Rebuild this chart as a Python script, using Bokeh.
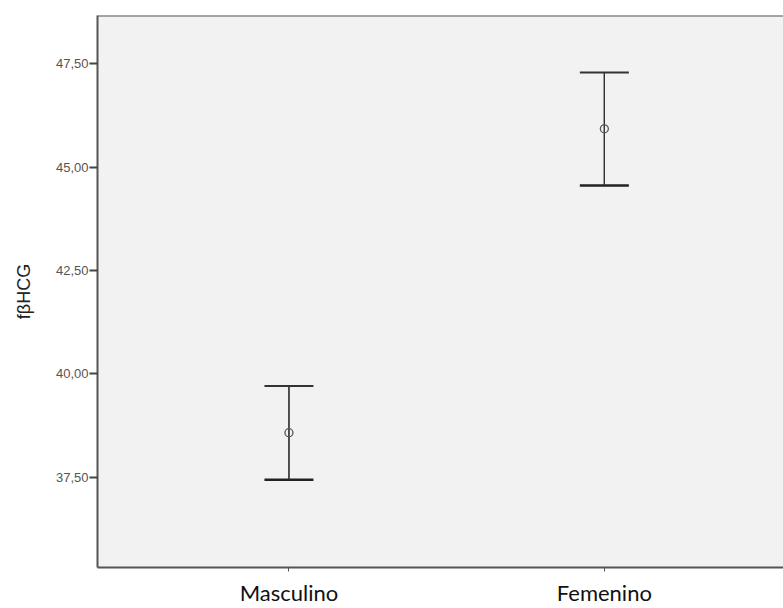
from bokeh.plotting import figure
from bokeh.models import FixedTicker, Range1d, ColumnDataSource, Whisker, Span
from bokeh.embed import file_html
from bokeh.resources import INLINE

categories = ["Masculino", "Femenino"]
cat_pos = [1, 2]
means = [38.58, 45.93]
upper = [39.71, 47.29]
lower = [37.44, 44.56]
y_ticks = [37.5, 40.0, 42.5, 45.0, 47.5]
y_tick_labels = ["37,50", "40,00", "42,50", "45,00", "47,50"]

p = figure(width=783, height=608, output_backend="svg", toolbar_location=None,
           x_range=Range1d(0.393, 2.568), y_range=Range1d(35.32, 48.67),
           min_border_left=97, min_border_top=15, min_border_bottom=41, min_border_right=0)
p.background_fill_color = "#f2f2f2"
p.border_fill_color = "white"
p.outline_line_color = None
p.grid.visible = False

src = ColumnDataSource(dict(x=cat_pos, m=means, u=upper, l=lower))
p.segment(x0="x", y0="l", x1="x", y1="u", source=src, line_color="#333333", line_width=1.2)
w = Whisker(base="x", upper="u", lower="l", source=src, dimension="height",
            line_color="#333333", line_width=1.2)
w.upper_head.size = 49
w.lower_head.size = 49
w.upper_head.line_color = "#333333"
w.lower_head.line_color = "#222222"
w.upper_head.line_width = 2
w.lower_head.line_width = 2.5
p.add_layout(w)
p.scatter(x="x", y="m", source=src, marker="circle", size=8, fill_color=None,
          line_color="#555555", line_width=1.3)

p.add_layout(Span(location=48.67, dimension="width", line_color="#555555", line_width=2))

p.xaxis.ticker = FixedTicker(ticks=cat_pos)
p.xaxis.major_label_overrides = {c: n for c, n in zip(cat_pos, categories)}
p.xaxis.major_label_text_font = "Lato"
p.xaxis.major_label_text_font_size = "22px"
p.xaxis.major_label_text_color = "#111111"
p.xaxis.major_label_standoff = 7
p.xaxis.minor_tick_line_color = None
p.xaxis.major_tick_out = 4
p.xaxis.major_tick_in = 0
p.xaxis.axis_line_color = "#555555"
p.xaxis.axis_line_width = 2
p.xaxis.major_tick_line_color = "#555555"

p.yaxis.ticker = FixedTicker(ticks=y_ticks)
p.yaxis.major_label_overrides = {t: s for t, s in zip(y_ticks, y_tick_labels)}
p.yaxis.major_label_text_font = "Liberation Sans"
p.yaxis.major_label_text_font_size = "13px"
p.yaxis.major_label_text_color = "#555555"
p.yaxis.major_label_standoff = 1
p.yaxis.minor_tick_line_color = None
p.yaxis.major_tick_out = 8
p.yaxis.major_tick_in = 0
p.yaxis.axis_line_color = "#555555"
p.yaxis.axis_line_width = 2
p.yaxis.major_tick_line_color = "#444444"
p.yaxis.major_tick_line_width = 2
p.yaxis.axis_label = "fβHCG"
p.yaxis.axis_label_text_font = "Liberation Sans"
p.yaxis.axis_label_text_font_style = "normal"
p.yaxis.axis_label_text_font_size = "18px"
p.yaxis.axis_label_text_color = "#222222"
p.yaxis.axis_label_standoff = 19

open("out.html", "w").write(file_html(p, INLINE))
